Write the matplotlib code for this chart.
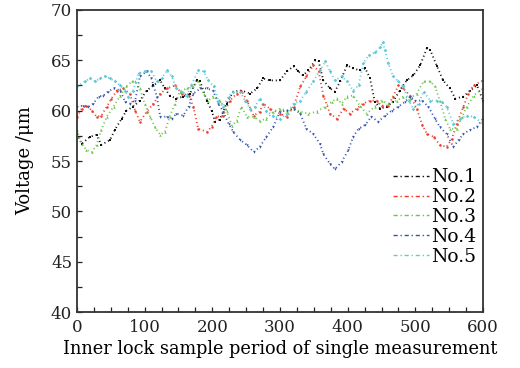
import matplotlib
matplotlib.use("Agg")
import matplotlib.pyplot as plt
from matplotlib.lines import Line2D
from matplotlib.ticker import MultipleLocator

# Values (sample index, voltage)
no1_x = [0, 7, 19, 29, 36, 49, 56, 66, 73, 83, 93, 103, 113, 123, 130, 137, 147, 157, 167,
         177, 182, 192, 199, 204, 211, 221, 231, 243, 256, 266, 275, 285, 300, 310, 320, 327,
         334, 342, 352, 357, 364, 374, 381, 389, 399, 408, 418, 426, 433, 440, 448, 458, 467,
         477, 487, 497, 507, 517, 522, 532, 541, 551, 559, 571, 581, 591, 600]
no1_y = [57.7, 56.7, 57.4, 57.6, 56.6, 57.1, 58.1, 59.2, 60.0, 60.4, 61.0, 62.0, 62.5, 63.0,
         62.2, 61.5, 61.2, 61.4, 61.7, 63.0, 62.9, 61.0, 60.0, 58.9, 59.1, 60.7, 61.9, 62.0,
         61.7, 62.2, 63.2, 63.0, 63.0, 63.9, 64.4, 63.9, 63.5, 64.0, 65.0, 64.9, 63.0, 62.2,
         61.9, 62.9, 64.5, 64.2, 64.0, 64.2, 63.2, 60.9, 60.2, 60.4, 60.9, 62.0, 63.0, 63.5,
         64.5, 66.2, 66.0, 64.4, 63.0, 62.2, 61.2, 61.4, 62.0, 62.5, 61.0]

no2_x = [0, 7, 14, 22, 29, 36, 44, 51, 59, 68, 78, 86, 93, 103, 113, 123, 133, 145, 155,
         165, 172, 179, 192, 199, 206, 216, 226, 236, 243, 251, 261, 270, 275, 285, 300, 310,
         320, 330, 339, 349, 357, 364, 374, 384, 394, 403, 413, 423, 433, 443, 450, 460, 467,
         475, 482, 492, 502, 510, 517, 527, 536, 546, 554, 561, 571, 578, 586, 600]
no2_y = [59.4, 60.2, 60.5, 60.0, 59.4, 59.5, 60.4, 61.2, 62.0, 62.2, 61.7, 60.0, 58.9, 59.9,
         60.7, 61.7, 62.2, 62.5, 61.7, 61.5, 60.4, 58.2, 57.9, 58.4, 59.4, 59.5, 61.0, 61.7,
         62.0, 61.0, 59.5, 59.9, 60.7, 60.2, 59.7, 59.4, 60.4, 62.4, 63.4, 64.5, 63.9, 61.5,
         59.7, 59.2, 60.2, 59.7, 60.2, 60.7, 61.0, 61.0, 60.5, 60.5, 61.4, 62.5, 62.2, 61.5,
         60.2, 58.6, 57.7, 57.4, 56.6, 56.4, 57.2, 58.7, 60.4, 61.7, 62.5, 63.0]

no3_x = [0, 7, 14, 22, 29, 36, 44, 54, 64, 73, 81, 86, 93, 100, 108, 115, 123, 130, 137,
         145, 152, 162, 172, 179, 187, 194, 201, 211, 221, 229, 236, 243, 251, 261, 270, 280,
         290, 300, 310, 320, 330, 342, 354, 367, 377, 384, 391, 399, 408, 418, 428, 440, 450,
         460, 473, 482, 492, 502, 512, 522, 529, 536, 544, 551, 561, 569, 576, 586, 600]
no3_y = [58.1, 56.7, 56.1, 55.9, 56.6, 58.1, 59.4, 60.4, 61.5, 62.4, 62.9, 62.9, 62.2, 60.7,
         59.4, 58.4, 57.6, 57.9, 59.4, 60.7, 61.9, 62.2, 62.4, 62.9, 61.7, 61.0, 61.4, 61.0,
         60.0, 58.5, 59.0, 60.4, 59.4, 59.4, 59.0, 59.2, 59.9, 60.2, 60.0, 60.2, 59.9, 59.7,
         59.9, 60.4, 60.9, 61.2, 60.7, 61.4, 61.5, 60.5, 59.7, 60.4, 61.0, 60.7, 61.0, 61.4,
         61.2, 61.7, 62.9, 62.9, 62.4, 61.0, 59.2, 58.2, 58.2, 59.4, 60.4, 61.5, 62.2]

no4_x = [0, 9, 17, 24, 32, 39, 46, 54, 64, 71, 78, 86, 93, 103, 110, 118, 123, 133, 140,
         147, 157, 165, 172, 182, 192, 201, 209, 216, 224, 231, 241, 251, 261, 270, 280, 290,
         300, 310, 320, 330, 339, 349, 359, 364, 374, 381, 391, 401, 408, 416, 426, 435, 445,
         455, 465, 475, 485, 492, 500, 510, 519, 529, 536, 546, 556, 564, 571, 581, 591, 600]
no4_y = [60.4, 60.5, 60.4, 60.7, 61.4, 61.5, 61.9, 62.2, 62.0, 60.9, 60.7, 61.0, 63.4, 63.9,
         63.2, 61.4, 59.4, 59.4, 59.2, 59.7, 59.5, 60.4, 61.7, 62.2, 62.2, 62.0, 60.7, 59.9,
         58.7, 57.9, 57.1, 56.6, 55.9, 56.4, 57.4, 58.4, 59.9, 60.0, 60.2, 59.7, 58.2, 57.7,
         56.7, 55.7, 54.7, 54.2, 54.9, 56.1, 57.4, 58.2, 58.6, 59.4, 58.9, 59.5, 60.0, 60.4,
         60.9, 61.4, 61.0, 61.0, 60.4, 59.2, 58.4, 57.7, 56.4, 57.1, 57.7, 58.1, 58.4, 59.2]

no5_x = [0, 12, 19, 27, 34, 41, 49, 56, 64, 71, 76, 83, 91, 100, 110, 118, 125, 133, 140,
         147, 155, 162, 169, 179, 187, 194, 202, 209, 216, 224, 231, 241, 248, 256, 263, 270,
         280, 290, 300, 310, 320, 330, 339, 349, 359, 367, 374, 381, 391, 399, 408, 416, 423,
         431, 441, 448, 452, 455, 460, 467, 475, 482, 490, 497, 505, 512, 522, 532, 539, 546,
         556, 566, 576, 586, 600]
no5_y = [62.4, 62.9, 63.2, 62.9, 63.2, 63.4, 63.2, 62.9, 62.5, 62.0, 61.4, 62.0, 63.7, 63.9,
         63.9, 62.9, 63.2, 64.0, 63.4, 62.2, 61.9, 61.5, 62.5, 64.0, 63.9, 63.0, 62.4, 61.0,
         60.4, 61.4, 61.9, 61.9, 61.0, 60.2, 60.4, 61.2, 60.0, 59.5, 59.2, 59.7, 60.7, 61.0,
         61.9, 62.9, 64.0, 64.9, 63.9, 63.0, 63.4, 62.9, 62.0, 62.5, 64.7, 65.5, 65.8, 66.3,
         66.8, 66.0, 64.7, 63.4, 62.9, 62.4, 61.0, 60.2, 60.7, 61.9, 61.0, 61.0, 60.9, 60.4,
         58.7, 59.2, 59.5, 59.4, 58.7]

labels = ["No.1", "No.2", "No.3", "No.4", "No.5"]
colors = ["#111111", "#f03a2a", "#6cc44a", "#3553b0", "#5fcbd8"]
markers = ["s", "o", "^", "v", "D"]

plt.rcParams["font.family"] = ["DejaVu Serif"]

fig = plt.figure(figsize=(5.2, 3.68), dpi=100)
ax = fig.add_axes([0.148, 0.152, 0.781, 0.821])

series = [(no1_x, no1_y), (no2_x, no2_y), (no3_x, no3_y), (no4_x, no4_y), (no5_x, no5_y)]
for (xs, ys), c, m in zip(series, colors, markers):
    ax.plot(xs, ys, color=c, lw=1.3, ls=(0, (0.6, 1.6)), marker=m, ms=1.8,
            markeredgewidth=0)

ax.set_xlim(0, 600)
ax.set_ylim(40, 70)
ax.xaxis.set_major_locator(MultipleLocator(100))
ax.xaxis.set_minor_locator(MultipleLocator(25))
ax.yaxis.set_major_locator(MultipleLocator(5))
ax.yaxis.set_minor_locator(MultipleLocator(2.5))
ax.tick_params(which="both", direction="in", top=False, right=False,
               length=3.5, width=0.9, labelsize=12, colors="#222222")
ax.tick_params(axis="x", pad=5)
for s in ax.spines.values():
    s.set_linewidth(1.3)
    s.set_color("#333333")

ax.set_xlabel("Inner lock sample period of single measurement", fontsize=12.8, labelpad=3)
ax.set_ylabel("Voltage /μm", fontsize=13, labelpad=12)

handles = [Line2D([], [], color=c, lw=1.0, ls=(0, (3, 2, 1, 2))) for c in colors]
ax.legend(handles, labels, loc="lower right", bbox_to_anchor=(1.015, 0.11), frameon=False,
          fontsize=13.5, handlelength=1.9, handletextpad=0.1, labelspacing=0.1,
          borderaxespad=0.3)

fig.savefig("out.png", dpi=100)
